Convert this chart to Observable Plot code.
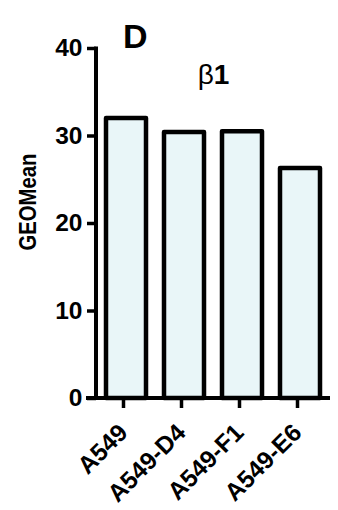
<!DOCTYPE html>
<html>
<head>
<meta charset="utf-8">
<script src="https://cdn.jsdelivr.net/npm/d3@7"></script>
<script src="https://cdn.jsdelivr.net/npm/@observablehq/plot@0.6"></script>
<style>
  html, body { margin: 0; padding: 0; background: #fff; }
  #chart { width: 338px; height: 510px; }
</style>
</head>
<body>
<div id="chart"></div>
<script>
const categories = ["A549", "A549-D4", "A549-F1", "A549-E6"];
const values = [32.0, 30.4, 30.5, 26.3];
const yTicks = [0, 10, 20, 30, 40];
const panelLabel = ["D"];
const chartTitle = ["β1"];
const yLabel = ["GEOMean"];

const data = categories.map((c, i) => ({cell: c, value: values[i]}));

function axisLines(index, scales, vals, dims) {
  const g = d3.create("svg:g")
    .attr("stroke", "black")
    .attr("stroke-width", 4)
    .attr("fill", "none");
  const left = dims.marginLeft;
  const right = dims.width - dims.marginRight;
  const y0 = scales.y(0);
  const yTop = scales.y(d3.max(yTicks));
  g.append("line").attr("x1", left).attr("x2", left).attr("y1", yTop - 1.5).attr("y2", y0);
  g.append("line").attr("x1", left - 10).attr("x2", right).attr("y1", y0).attr("y2", y0);
  return g.node();
}

const chart = Plot.plot({
  width: 338,
  height: 510,
  marginLeft: 96,
  marginRight: 8,
  marginTop: 48,
  marginBottom: 112,
  style: {fontFamily: "'Liberation Sans', Arial, sans-serif", fontWeight: "bold", color: "black", background: "white"},
  x: {domain: categories, paddingInner: 0.316, paddingOuter: 0.158, label: null},
  y: {domain: [0, 40], label: null},
  marks: [
    Plot.barY(data, {x: "cell", y: "value", fill: "#e9f6f8", stroke: "black", strokeWidth: 4.5, strokeLinejoin: "round"}),
    Plot.axisY({ticks: yTicks, tickSize: 9, tickPadding: 5, fontSize: 24.5, strokeWidth: 3.5, label: null}),
    Plot.axisX({tickRotate: -45, tickSize: 10, tickPadding: 20, dx: -3, fontSize: 24.5, strokeWidth: 3.5, label: null}),
    axisLines,
    Plot.text(yLabel, {frameAnchor: "left", textAnchor: "middle", rotate: -90, dx: -68, dy: -21.5, fontSize: 24.5, fontWeight: "bold"}),
    Plot.text(panelLabel, {frameAnchor: "top-left", textAnchor: "middle", dx: 38.7, dy: -24.6, fontSize: 34, fontWeight: "bold"}),
    Plot.text(chartTitle, {frameAnchor: "top", dy: 16, fontSize: 28, fontWeight: "bold"})
  ]
});
document.getElementById("chart").appendChild(chart);

// Condensed axis title, like the narrow face of the original
d3.select(chart).selectAll("text")
  .filter(function() { return this.textContent === yLabel[0]; })
  .attr("textLength", 97)
  .attr("lengthAdjust", "spacingAndGlyphs");

// Greek letter in a regular weight, digit in bold
d3.select(chart).selectAll("text")
  .filter(function() { return this.textContent === chartTitle[0]; })
  .each(function() {
    const t = d3.select(this);
    const s = chartTitle[0];
    t.text(null);
    t.append("tspan").attr("font-weight", "normal").text(s.slice(0, 1));
    t.append("tspan").attr("font-weight", "bold").text(s.slice(1));
  });
</script>
</body>
</html>
